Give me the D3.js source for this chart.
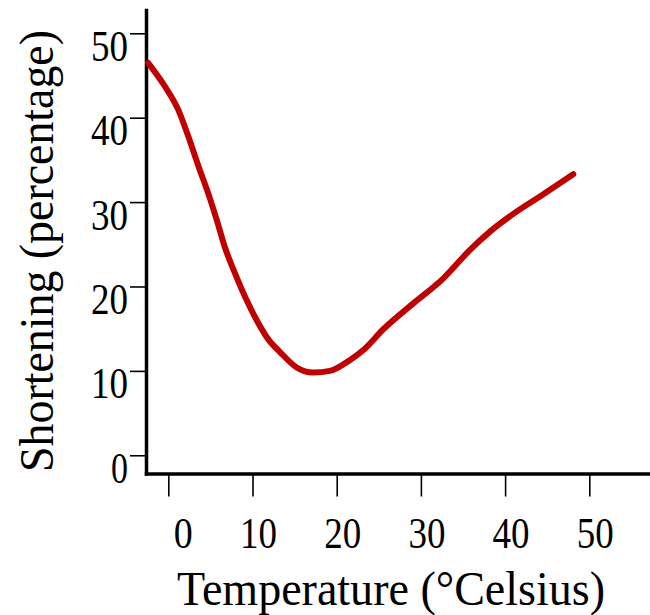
<!DOCTYPE html>
<html>
<head>
<meta charset="utf-8">
<script src="https://d3js.org/d3.v7.min.js"></script>
<style>
  body { margin: 0; background: #fff; }
  text { font-family: "Liberation Serif", "Times New Roman", serif; fill: #000; }
</style>
</head>
<body>
<div id="chart"></div>
<script>
// values
temps = [-2.4, -0.4, 1.2, 2.4, 3.6, 4.75, 5.75, 6.7, 7.9, 9.1, 10.5, 11.9, 13.3, 15.25, 17.2, 19.2, 21.6, 23.2, 25.5, 29.1, 32.7, 35.8, 38.2, 41.4, 44.5, 48.1]
shortening = [46.5, 43.7, 40.9, 37.7, 34.2, 31.0, 27.9, 24.7, 21.6, 18.8, 16.0, 13.7, 12.2, 10.4, 9.8, 10.0, 11.3, 12.5, 14.9, 18.0, 21.0, 24.3, 26.5, 28.9, 30.9, 33.3]
xTicks = [0, 10, 20, 30, 40, 50]
yTicks = [0, 10, 20, 30, 40, 50]
xTitle = 'Temperature (\u00B0Celsius)'
yTitle = 'Shortening (percentage)'

width = 650
height = 615

data = temps.map((t, i) => ({ t: t, s: shortening[i] }))

svg = d3.select('#chart')
  .append('svg')
  .attr('width', width)
  .attr('height', height)

//////// scales
xScale = d3.scaleLinear()
  .domain([-2.65, 57.21])
  .range([146, 650])

yScale = d3.scaleLinear()
  .domain([-2.16, 52.76])
  .range([473.5, 10])

//////// axes
yAxis = d3.axisLeft(yScale)
  .tickValues(yTicks)
  .tickSize(16)
  .tickSizeOuter(0)

gy = svg.append('g')
  .attr('transform', `translate(${xScale.range()[0]} 0)`)
  .call(yAxis)

xAxis = d3.axisBottom(xScale)
  .tickValues(xTicks)
  .tickSize(23)
  .tickSizeOuter(0)

gx = svg.append('g')
  .attr('transform', `translate(0 ${yScale.range()[0]})`)
  .call(xAxis)

// style axes
svg.selectAll('.domain').attr('stroke', '#000').attr('stroke-width', 3.5).attr('stroke-linecap', 'square')
svg.selectAll('.tick line').attr('stroke', '#000').attr('stroke-width', 1.6)

gy.selectAll('.tick text')
  .attr('font-size', 44)
  .attr('font-family', '"Liberation Serif", serif')
  .attr('x', -18)
  .attr('y', 27)
  .attr('dy', 0)
  .attr('text-anchor', 'end')
  .attr('textLength', d => String(d).length === 1 ? 17 : 37)
  .attr('lengthAdjust', 'spacingAndGlyphs')

gx.selectAll('.tick text')
  .attr('font-size', 44)
  .attr('font-family', '"Liberation Serif", serif')
  .attr('x', 24)
  .attr('y', 74)
  .attr('dy', 0)
  .attr('text-anchor', 'end')
  .attr('textLength', d => String(d).length === 1 ? 19 : 37)
  .attr('lengthAdjust', 'spacingAndGlyphs')

//////// curve
line = d3.line()
  .x(d => xScale(d.t))
  .y(d => yScale(d.s))
  .curve(d3.curveMonotoneX)

svg.append('path')
  .datum(data)
  .attr('d', line)
  .attr('fill', 'none')
  .attr('stroke', '#c00000')
  .attr('stroke-width', 6)
  .attr('stroke-linecap', 'round')
  .attr('stroke-linejoin', 'round')

//////// titles
svg.append('text')
  .attr('x', 177)
  .attr('y', 605)
  .attr('font-size', 48)
  .attr('textLength', 428)
  .attr('lengthAdjust', 'spacingAndGlyphs')
  .text(xTitle)

svg.append('text')
  .attr('transform', 'translate(53 472) rotate(-90)')
  .attr('font-size', 48)
  .attr('textLength', 442)
  .attr('lengthAdjust', 'spacingAndGlyphs')
  .text(yTitle)
</script>
</body>
</html>
